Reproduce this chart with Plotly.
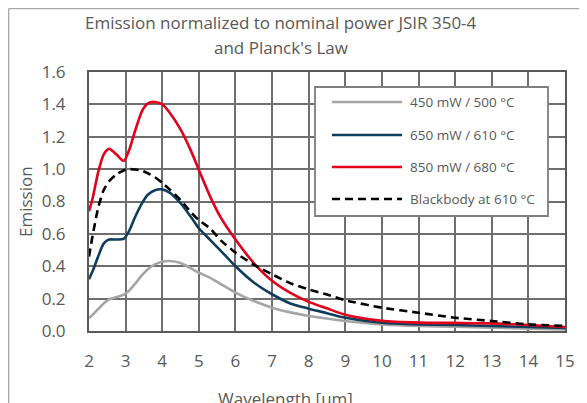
import plotly.graph_objects as go

wavelength = [2.0, 2.1, 2.25, 2.4, 2.55, 2.75, 2.95, 3.1, 3.25, 3.45, 3.6, 3.8, 4.0, 4.2,
              4.5, 4.8, 5.0, 5.3, 5.6, 6.0, 6.5, 7.0, 7.5, 8.0, 8.5, 9.0, 10, 11, 12, 13, 14, 15]

grey_450 = [0.08, 0.10, 0.135, 0.17, 0.195, 0.21, 0.225, 0.25, 0.29, 0.345, 0.38, 0.412, 0.428, 0.432,
            0.42, 0.385, 0.36, 0.33, 0.29, 0.237, 0.185, 0.144, 0.115, 0.093, 0.077, 0.062,
            0.041, 0.031, 0.027, 0.021, 0.014, 0.01]

blue_650 = [0.32, 0.37, 0.46, 0.54, 0.565, 0.565, 0.57, 0.62, 0.70, 0.79, 0.84, 0.87, 0.875, 0.855,
            0.79, 0.70, 0.635, 0.565, 0.495, 0.40, 0.30, 0.227, 0.17, 0.138, 0.11, 0.082,
            0.051, 0.041, 0.037, 0.031, 0.025, 0.019]

red_850 = [0.74, 0.82, 0.98, 1.09, 1.125, 1.09, 1.05, 1.12, 1.23, 1.36, 1.405, 1.415, 1.40, 1.35,
           1.245, 1.105, 0.995, 0.835, 0.70, 0.565, 0.42, 0.31, 0.235, 0.18, 0.14, 0.10,
           0.063, 0.052, 0.05, 0.047, 0.037, 0.025]

blackbody = [0.46, 0.59, 0.76, 0.87, 0.925, 0.968, 0.992, 1.0, 0.998, 0.99, 0.975, 0.95, 0.915, 0.875,
             0.81, 0.73, 0.685, 0.635, 0.56, 0.484, 0.41, 0.35, 0.295, 0.257, 0.225, 0.19,
             0.144, 0.113, 0.082, 0.062, 0.041, 0.031]

series_names = ["450 mW / 500 °C", "650 mW / 610 °C", "850 mW / 680 °C", "Blackbody at 610 °C"]
series_values = [grey_450, blue_650, red_850, blackbody]
colors = ["#A5A5A5", "#0F3D5C", "#E3001B", "#000000"]
dashes = ["solid", "solid", "solid", "8px,5px"]

x_ticks = list(range(2, 16))
y_ticks = [0.0, 0.2, 0.4, 0.6, 0.8, 1.0, 1.2, 1.4, 1.6]

title_lines = ["Emission normalized to nominal power JSIR 350-4", "and Planck's Law"]
x_title = "Wavelength [um]"
y_title = "Emission"

FONT = "Open Sans"
TXT = "#595959"
GRID = "#6E6E6E"

X_RANGE = [x_ticks[0], x_ticks[-1]]
Y_RANGE = [y_ticks[0], y_ticks[-1]]

fig = go.Figure()
for name, vals, col, dsh in zip(series_names, series_values, colors, dashes):
    fig.add_trace(go.Scatter(
        x=wavelength, y=vals, mode="lines", name=name,
        line=dict(color=col, width=2.6, dash=dsh, shape="spline", smoothing=0.7),
        showlegend=False, hoverinfo="skip",
    ))

# page has an 8px body margin; work in page pixels and convert
OFF = 8
W, H = 587 - OFF, 403 - OFF
L, R, T, B = 89 - OFF, 565 - OFF, 72 - OFF, 331 - OFF
pw, ph = R - L, B - T

def px(x):
    return (x - OFF - L) / pw

def py(y):
    return (B - (y - OFF)) / ph

shapes = []
annotations = []

# outer chart border (top/left edges visible)
shapes.append(dict(type="line", xref="paper", yref="paper",
                   x0=px(8.7), x1=px(700), y0=py(8.7), y1=py(8.7),
                   line=dict(color="#A6A6A6", width=1.3), layer="above"))
shapes.append(dict(type="line", xref="paper", yref="paper",
                   x0=px(8.7), x1=px(8.7), y0=py(8.7), y1=py(600),
                   line=dict(color="#A6A6A6", width=1.3), layer="above"))

# titles
annotations.append(dict(text=title_lines[0], xref="paper", yref="paper", x=px(281), y=py(23),
                        xanchor="center", yanchor="middle", showarrow=False,
                        font=dict(family=FONT, size=17, color=TXT)))
annotations.append(dict(text=title_lines[1], xref="paper", yref="paper", x=px(281), y=py(48),
                        xanchor="center", yanchor="middle", showarrow=False,
                        font=dict(family=FONT, size=17, color=TXT)))
annotations.append(dict(text=y_title, xref="paper", yref="paper", x=px(25), y=py(202),
                        xanchor="center", yanchor="middle", showarrow=False, textangle=-90,
                        font=dict(family=FONT, size=17, color=TXT)))
annotations.append(dict(text=x_title, xref="paper", yref="paper", x=px(285), y=py(398),
                        xanchor="center", yanchor="middle", showarrow=False,
                        font=dict(family=FONT, size=17, color=TXT)))

# manual legend
shapes.append(dict(type="rect", xref="paper", yref="paper",
                   x0=px(315), x1=px(548), y0=py(216), y1=py(87),
                   line=dict(color="#7F7F7F", width=1.8), fillcolor="white", layer="above"))
rows = [102, 135, 167, 199]
for name, col, dsh, ry in zip(series_names, colors, dashes, rows):
    shapes.append(dict(type="line", xref="paper", yref="paper",
                       x0=px(332), x1=px(402), y0=py(ry), y1=py(ry),
                       line=dict(color=col, width=2.6, dash=dsh), layer="above"))
    annotations.append(dict(text=name, xref="paper", yref="paper", x=px(408), y=py(ry),
                            xanchor="left", yanchor="middle", showarrow=False,
                            font=dict(family=FONT, size=13.5, color=TXT)))

fig.update_layout(
    width=W, height=H,
    margin=dict(l=L, r=W - R, t=T, b=H - B, pad=0, autoexpand=False),
    paper_bgcolor="white", plot_bgcolor="white",
    font=dict(family=FONT, color=TXT),
    shapes=shapes, annotations=annotations,
    showlegend=False,
)
fig.update_xaxes(range=X_RANGE, tickmode="array", tickvals=x_ticks, ticktext=[str(t) for t in x_ticks],
                 showgrid=True, gridcolor=GRID, gridwidth=2,
                 showline=True, linecolor="#595959", linewidth=2, mirror=True,
                 zeroline=False, ticks="outside", ticklen=14, tickcolor="rgba(0,0,0,0)",
                 tickfont=dict(family=FONT, size=17, color=TXT))
fig.update_yaxes(range=Y_RANGE, tickmode="array", tickvals=y_ticks, ticktext=[f"{t:.1f}" for t in y_ticks],
                 showgrid=True, gridcolor=GRID, gridwidth=2,
                 showline=True, linecolor="#595959", linewidth=2, mirror=True,
                 zeroline=False, ticks="outside", ticklen=18, tickcolor="rgba(0,0,0,0)",
                 tickfont=dict(family=FONT, size=17, color=TXT))

fig.write_html("out.html")
